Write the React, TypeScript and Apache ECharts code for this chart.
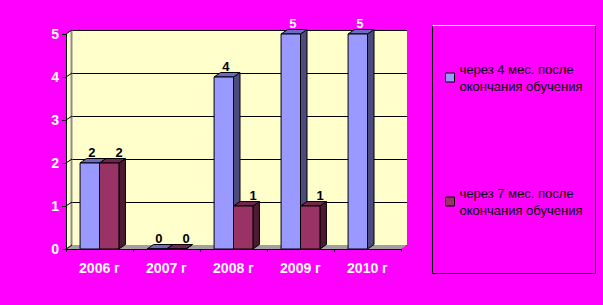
import { useEffect, useRef } from 'react';
import * as echarts from 'echarts';

// ---- data ----
const categories = ['2006 г', '2007 г', '2008 г', '2009 г', '2010 г'];
const seriesNames = ['через 4 мес. после окончания обучения', 'через 7 мес. после окончания обучения'];
const after4Months: (number | null)[] = [2, 0, 4, 5, 5];
const after7Months: (number | null)[] = [2, 0, 1, 1, null];
const Y_MIN = 0;
const Y_MAX = 5;
const Y_STEP = 1;

// ---- layout / style ----
const W = 603;
const H = 305;
const FRONT = { left: 66, top: 34, width: 335, height: 215 };
const DX = 6;
const DY = -4;
const BACK = { left: FRONT.left + DX, top: FRONT.top + DY, width: FRONT.width, height: FRONT.height };
const BAR_DX = 6.5;
const BAR_DY = -4.5;
const BAR_FRAC = 0.29;
const FONT = "'Liberation Sans', Arial, sans-serif";

const PALETTE = [
  { front: '#9999FF', top: '#6B6BC2', side: '#4B4B80' },
  { front: '#993366', top: '#73264D', side: '#4D1A33' },
];
const LABEL_DX = [2, 10];

const frontY = (v: number) => FRONT.top + FRONT.height * (1 - (v - Y_MIN) / (Y_MAX - Y_MIN));
const backY = (v: number) => BACK.top + BACK.height * (1 - (v - Y_MIN) / (Y_MAX - Y_MIN));

function makeRender(si: number) {
  const pal = PALETTE[si];
  return (params: any, api: any) => {
    const v = api.value(1);
    if (v == null || isNaN(v)) return null;
    const idx = api.value(0);
    const c = api.coord([idx, v]);
    const b = api.coord([idx, 0]);
    const band = api.size([1, 0])[0];
    const w = band * BAR_FRAC;
    const x0 = si === 0 ? c[0] - w : c[0];
    const x1 = x0 + w;
    const yt = c[1];
    const yb = b[1];
    const stroke = { stroke: '#000', lineWidth: 1 };
    const aboveWall = v >= Y_MAX;
    return {
      type: 'group',
      children: [
        {
          type: 'polygon',
          shape: { points: [[x1, yb], [x1 + BAR_DX, yb + BAR_DY], [x1 + BAR_DX, yt + BAR_DY], [x1, yt]] },
          style: { fill: pal.side, ...stroke },
        },
        {
          type: 'polygon',
          shape: { points: [[x0, yt], [x0 + BAR_DX, yt + BAR_DY], [x1 + BAR_DX, yt + BAR_DY], [x1, yt]] },
          style: { fill: pal.top, ...stroke },
        },
        {
          type: 'rect',
          shape: { x: x0, y: yt, width: w, height: yb - yt },
          style: { fill: pal.front, ...stroke },
        },
        {
          type: 'text',
          x: (x0 + x1) / 2 + LABEL_DX[si],
          y: yt - 4,
          style: {
            text: String(v),
            font: `bold 13px ${FONT}`,
            fill: aboveWall ? '#fff' : '#000',
            align: 'center',
            verticalAlign: 'bottom',
            textShadowColor: aboveWall ? '#000' : '#fff',
            textShadowOffsetX: aboveWall ? -1 : 1,
            textShadowOffsetY: 0,
            textShadowBlur: 0,
          },
        },
      ],
    };
  };
}

export default function App() {
  const ref = useRef<HTMLDivElement>(null);
  useEffect(() => {
    if (!ref.current) return;
    const chart = echarts.init(ref.current, undefined, { renderer: 'svg' });

    const ticks: number[] = [];
    for (let v = Y_MIN; v <= Y_MAX; v += Y_STEP) ticks.push(v);

    const axisLabelStyle = {
      color: '#fff',
      fontFamily: FONT,
      fontWeight: 'bold' as const,
      fontSize: 14,
      textShadowColor: '#000',
      textShadowOffsetX: -1,
      textShadowOffsetY: 0,
      textShadowBlur: 0,
    };

    const graphics: any[] = [
      // left side wall
      {
        type: 'polygon',
        z: 1,
        shape: {
          points: [
            [FRONT.left, FRONT.top],
            [BACK.left, BACK.top],
            [BACK.left, BACK.top + BACK.height],
            [FRONT.left, FRONT.top + FRONT.height],
          ],
        },
        style: { fill: '#FFFFCC' },
      },
      {
        type: 'line',
        z: 1,
        shape: { x1: BACK.left - 0.5, y1: BACK.top, x2: BACK.left - 0.5, y2: BACK.top + BACK.height },
        style: { stroke: '#8C8C8C', lineWidth: 2 },
      },
      // floor
      {
        type: 'polygon',
        z: 1,
        shape: {
          points: [
            [FRONT.left, FRONT.top + FRONT.height],
            [BACK.left, BACK.top + BACK.height],
            [BACK.left + BACK.width, BACK.top + BACK.height],
            [FRONT.left + FRONT.width, FRONT.top + FRONT.height],
          ],
        },
        style: { fill: '#A0A0A0' },
      },
      // diagonal tick lines on side wall
      ...ticks.map((v) => ({
        type: 'line',
        z: 1,
        shape: { x1: FRONT.left, y1: frontY(v), x2: BACK.left, y2: backY(v) },
        style: { stroke: '#000', lineWidth: 1 },
      })),
      // legend box
      {
        type: 'rect',
        z: 1,
        shape: { x: 432.5, y: 25.5, width: 163, height: 248 },
        style: { fill: 'none', stroke: '#000', lineWidth: 1 },
      },
      {
        type: 'line',
        z: 1,
        shape: { x1: 432.5, y1: 25.5, x2: 595.5, y2: 25.5 },
        style: { stroke: '#fff', lineWidth: 1 },
      },
    ];

    chart.setOption({
      animation: false,
      backgroundColor: '#FF00FF',
      grid: [
        { ...BACK, show: true, backgroundColor: '#FFFFCC', borderWidth: 0, containLabel: false },
        { ...FRONT, show: false, containLabel: false },
      ],
      xAxis: [
        { type: 'category', gridIndex: 0, data: categories, show: false },
        {
          type: 'category',
          gridIndex: 1,
          data: categories,
          z: 3,
          boundaryGap: true,
          axisLine: { show: true, lineStyle: { color: '#000', width: 1 } },
          axisTick: { show: true, length: 3, alignWithLabel: false, lineStyle: { color: '#000' } },
          axisLabel: { ...axisLabelStyle, margin: 12 },
          splitLine: { show: false },
        },
      ],
      yAxis: [
        {
          type: 'value',
          gridIndex: 0,
          min: Y_MIN,
          max: Y_MAX,
          interval: Y_STEP,
          axisLine: { show: false },
          axisTick: { show: false },
          axisLabel: { show: false },
          splitLine: { show: true, lineStyle: { color: '#000', width: 1 } },
        },
        {
          type: 'value',
          gridIndex: 1,
          min: Y_MIN,
          max: Y_MAX,
          interval: Y_STEP,
          z: 3,
          axisLine: { show: true, lineStyle: { color: '#000', width: 1 } },
          axisTick: { show: true, length: 4, lineStyle: { color: '#000' } },
          axisLabel: { ...axisLabelStyle, margin: 7 },
          splitLine: { show: false },
        },
      ],
      legend: {
        orient: 'vertical',
        left: 445,
        top: 52,
        padding: 0,
        itemGap: 73,
        itemWidth: 9,
        itemHeight: 9,
        icon: 'rect',
        itemStyle: { borderColor: '#000', borderWidth: 1 },
        formatter: (n: string) => n.replace(' окончания', '\nокончания'),
        textStyle: {
          fontFamily: FONT,
          fontSize: 13,
          color: '#000',
          lineHeight: 17,
          padding: [17, 0, 0, 0],
          textShadowColor: '#fff',
          textShadowOffsetX: 1,
          textShadowOffsetY: 1,
          textShadowBlur: 0,
        },
        data: seriesNames,
      },
      graphic: graphics,
      series: [after4Months, after7Months].map((vals, si) => ({
        type: 'custom',
        name: seriesNames[si],
        xAxisIndex: 1,
        yAxisIndex: 1,
        z: 2,
        clip: false,
        itemStyle: { color: PALETTE[si].front },
        renderItem: makeRender(si),
        encode: { x: 0, y: 1 },
        data: vals.map((v, i) => [i, v == null ? NaN : v]),
      })),
    });

    return () => chart.dispose();
  }, []);

  return (
    <div
      ref={ref}
      style={{ position: 'fixed', left: 0, top: 0, width: W, height: H }}
    />
  );
}
